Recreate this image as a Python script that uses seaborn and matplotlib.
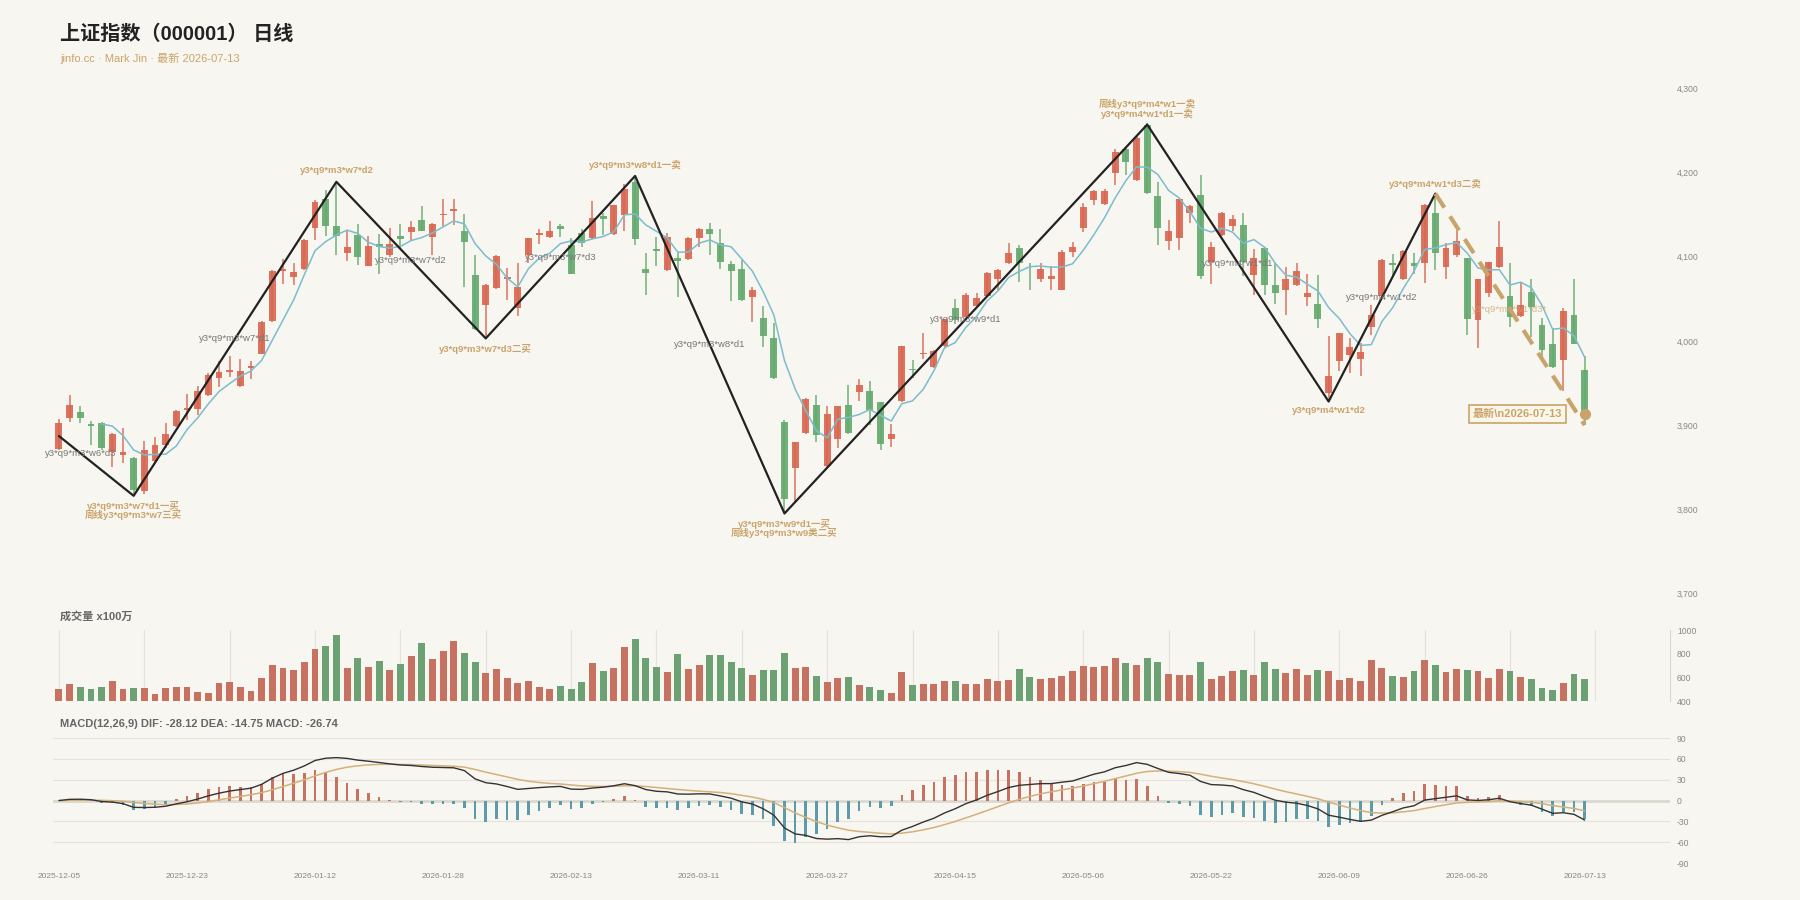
import numpy as np
import pandas as pd
import seaborn as sns
import matplotlib.pyplot as plt
from matplotlib.ticker import FuncFormatter

# daily OHLC (index 0 = 2025-12-05, 143 = 2026-07-13)
opens = [3872, 3908, 3916, 3901, 3903, 3868, 3864, 3861, 3822, 3857,
         3876, 3899, 3918, 3919, 3936, 3956, 3963, 3947, 3968, 3985,
         4024, 4083, 4076, 4086, 4134, 4168, 4137, 4105, 4126, 4089,
         4115, 4102, 4125, 4129, 4144, 4124, 4149, 4154, 4131, 4078,
         4043, 4063, 4074, 4039, 4102, 4126, 4123, 4137, 4114, 4128,
         4122, 4148, 4127, 4150, 4189, 4086, 4109, 4084, 4098, 4097,
         4122, 4133, 4116, 4091, 4085, 4052, 4027, 4004, 3904, 3849,
         3891, 3924, 3851, 3883, 3924, 3939, 3940, 3927, 3883, 3929,
         3967, 3984, 3969, 3994, 4039, 4029, 4041, 4053, 4074, 4092,
         4110, 4080, 4073, 4074, 4060, 4106, 4134, 4167, 4163, 4200,
         4228, 4191, 4257, 4172, 4119, 4122, 4152, 4173, 4094, 4126,
         4136, 4138, 4078, 4110, 4066, 4060, 4066, 4052, 4044, 3938,
         3976, 3983, 3978, 4017, 4053, 4093, 4073, 4093, 4093, 4152,
         4088, 4102, 4098, 4025, 4057, 4088, 4053, 4030, 4058, 4019,
         3996, 3977, 4031, 3965]
highs = [3907, 3936, 3923, 3905, 3904, 3891, 3896, 3862, 3881, 3886,
         3902, 3918, 3937, 3946, 3962, 3976, 3982, 3978, 3976, 4024,
         4084, 4097, 4092, 4121, 4167, 4179, 4189, 4132, 4139, 4125,
         4127, 4134, 4139, 4142, 4160, 4140, 4168, 4168, 4151, 4102,
         4068, 4102, 4087, 4093, 4122, 4133, 4142, 4139, 4122, 4133,
         4166, 4152, 4162, 4187, 4196, 4104, 4124, 4128, 4104, 4123,
         4134, 4140, 4133, 4095, 4096, 4064, 4041, 4021, 3906, 3880,
         3932, 3936, 3923, 3923, 3948, 3955, 3952, 3928, 3901, 3994,
         3977, 4010, 3989, 4026, 4050, 4057, 4057, 4082, 4086, 4116,
         4114, 4093, 4092, 4089, 4108, 4117, 4164, 4179, 4181, 4228,
         4229, 4243, 4259, 4189, 4144, 4169, 4161, 4197, 4118, 4153,
         4149, 4152, 4109, 4111, 4092, 4088, 4092, 4079, 4078, 4006,
         4010, 4004, 3997, 4043, 4097, 4103, 4108, 4104, 4163, 4175,
         4116, 4132, 4099, 4074, 4094, 4142, 4092, 4069, 4073, 4027,
         4015, 4039, 4073, 3982]
lows = [3870, 3904, 3902, 3876, 3871, 3850, 3855, 3816, 3818, 3855,
        3873, 3898, 3906, 3912, 3934, 3945, 3957, 3945, 3955, 3984,
        4023, 4068, 4066, 4084, 4120, 4125, 4102, 4095, 4090, 4089,
        4080, 4100, 4109, 4119, 4130, 4102, 4137, 4138, 4064, 4013,
        4003, 4062, 4049, 4030, 4092, 4115, 4122, 4123, 4080, 4112,
        4121, 4126, 4126, 4130, 4114, 4055, 4089, 4083, 4052, 4096,
        4112, 4102, 4086, 4047, 4048, 4022, 3993, 3955, 3795, 3808,
        3890, 3880, 3850, 3873, 3890, 3929, 3900, 3870, 3874, 3928,
        3956, 3979, 3968, 3991, 4020, 4028, 4040, 4052, 4061, 4091,
        4070, 4061, 4070, 4061, 4060, 4100, 4129, 4162, 4162, 4185,
        4197, 4190, 4175, 4114, 4108, 4108, 4140, 4074, 4068, 4125,
        4130, 4077, 4055, 4055, 4044, 4031, 4065, 4042, 4015, 3928,
        3964, 3962, 3958, 4007, 4052, 4078, 4072, 4080, 4069, 4084,
        4074, 4100, 4007, 3991, 4052, 4087, 4017, 4028, 4005, 3977,
        3968, 3940, 3996, 3900]
closes = [3902, 3924, 3909, 3899, 3873, 3889, 3868, 3823, 3870, 3876,
          3890, 3917, 3920, 3940, 3959, 3963, 3965, 3964, 3970, 4023,
          4083, 4086, 4082, 4120, 4165, 4137, 4125, 4111, 4100, 4113,
          4112, 4115, 4121, 4135, 4131, 4139, 4151, 4157, 4117, 4014,
          4066, 4101, 4076, 4064, 4122, 4128, 4131, 4133, 4080, 4116,
          4146, 4145, 4161, 4181, 4121, 4081, 4107, 4123, 4095, 4122,
          4133, 4127, 4094, 4083, 4049, 4061, 4006, 3956, 3812, 3880,
          3931, 3888, 3913, 3923, 3891, 3948, 3918, 3878, 3889, 3994,
          3965, 3986, 3988, 4026, 4025, 4055, 4051, 4081, 4084, 4105,
          4092, 4079, 4085, 4077, 4106, 4111, 4159, 4178, 4178, 4224,
          4213, 4241, 4176, 4134, 4130, 4168, 4160, 4077, 4112, 4152,
          4145, 4094, 4099, 4066, 4057, 4074, 4083, 4057, 4026, 3958,
          4009, 3993, 3987, 4031, 4096, 4090, 4107, 4089, 4161, 4105,
          4110, 4119, 4026, 4073, 4094, 4111, 4028, 4043, 4040, 3989,
          3969, 4036, 3996, 3913]
volumes = [498, 545, 523, 498, 523, 573, 498, 512, 512, 459,
           512, 523, 520, 473, 467, 556, 565, 523, 489, 595,
           701, 682, 665, 732, 841, 869, 955, 679, 763, 688,
           735, 665, 710, 782, 888, 754, 821, 908, 805, 732,
           637, 673, 595, 556, 573, 523, 498, 528, 498, 565,
           724, 651, 682, 860, 922, 763, 687, 646, 796, 671,
           707, 785, 791, 729, 676, 620, 665, 665, 805, 676,
           685, 615, 559, 593, 604, 540, 520, 490, 470, 643,
           540, 542, 542, 567, 567, 548, 548, 587, 573, 581,
           671, 604, 590, 598, 612, 657, 699, 685, 696, 763,
           721, 704, 763, 732, 629, 618, 623, 729, 590, 615,
           654, 660, 620, 732, 673, 640, 668, 620, 662, 657,
           576, 598, 570, 743, 676, 615, 607, 657, 743, 707,
           646, 668, 660, 657, 598, 671, 654, 601, 590, 514,
           495, 551, 629, 590]

tick_pos = [0, 12, 24, 36, 48, 60, 72, 84, 96, 108, 120, 132, 143]
tick_dates = ["2025-12-05", "2025-12-23", "2026-01-12", "2026-01-28", "2026-02-13",
              "2026-03-11", "2026-03-27", "2026-04-15", "2026-05-06", "2026-05-22",
              "2026-06-09", "2026-06-26", "2026-07-13"]

# zigzag strokes
pivot_idx = [0, 7, 26, 40, 54, 68, 102, 119, 129]
pivot_val = [3887, 3816, 4189, 4003, 4196, 3795, 4257, 3928, 4175]
open_end = (143, 3900)
seg_names = ["y3*q9*m3*w7*d1", "y3*q9*m3*w7*d2", "y3*q9*m3*w7*d3", "y3*q9*m3*w8*d1",
             "y3*q9*m3*w9*d1", "y3*q9*m4*w1*d1", "y3*q9*m4*w1*d2"]
first_name = "y3*q9*m3*w6*d3"
open_name = "y3*q9*m4*w1*d3*"

# signal labels at the pivots
sig_x = [7, 7, 26, 40, 54, 68, 68, 102, 102, 119, 129]
sig_y = [3804, 3793, 4203, 3990, 4209, 3783, 3772, 4281, 4270, 3917, 4187]
sig_text = ["y3*q9*m3*w7*d1一买", "周线y3*q9*m3*w7三买", "y3*q9*m3*w7*d2",
            "y3*q9*m3*w7*d3二买", "y3*q9*m3*w8*d1一卖", "y3*q9*m3*w9*d1一买",
            "周线y3*q9*m3*w9类二买", "周线y3*q9*m4*w1一卖", "y3*q9*m4*w1*d1一卖",
            "y3*q9*m4*w1*d2", "y3*q9*m4*w1*d3二卖"]

BG = "#f8f6f1"
RED = "#d8654f"
GREEN = "#62aa6c"
GOLD = "#c9a46a"
TEAL = "#4fa3b6"
MA_C = "#7cbccc"

sns.set_theme(style="white")
plt.rcParams["font.family"] = ["Liberation Sans", "Noto Sans CJK SC", "DejaVu Sans"]
plt.rcParams["axes.unicode_minus"] = False

o = np.array(opens, float)
h = np.array(highs, float)
l = np.array(lows, float)
c = np.array(closes, float)
idx = np.arange(len(c))
up = c >= o
cols = np.where(up, RED, GREEN)

close = pd.Series(c)
ma5 = close.rolling(5).mean()
dif = close.ewm(span=12, adjust=False).mean() - close.ewm(span=26, adjust=False).mean()
dea = dif.ewm(span=9, adjust=False).mean()
hist = 2 * (dif - dea)

fig = plt.figure(figsize=(18, 9), dpi=100, facecolor=BG)
XL = (-0.6, 151)
L, W = 0.0292, 0.8986
ax = fig.add_axes([L, 0.3406, W, 0.5612], facecolor=BG)
axv = fig.add_axes([L, 0.221, W, 0.079], facecolor=BG)
axm = fig.add_axes([L, 0.041, W, 0.139], facecolor=BG)

# --- candles
ax.vlines(idx, l, h, colors=cols, linewidth=1.1, alpha=0.9, zorder=2)
body = np.maximum(np.abs(c - o), 0.9)
ax.bar(idx, body, bottom=np.minimum(o, c), width=0.65, color=cols, alpha=0.9,
       linewidth=0, zorder=3)
ma_df = pd.DataFrame({"i": idx, "ma": ma5}).dropna()
sns.lineplot(data=ma_df, x="i", y="ma", color=MA_C, linewidth=1.1, ax=ax,
             estimator=None, zorder=4)

# zigzag
ax.plot(pivot_idx, pivot_val, color="#222222", linewidth=1.6, zorder=5)
ax.plot([pivot_idx[-1], open_end[0]], [pivot_val[-1], open_end[1]], color=GOLD,
        linewidth=3, dashes=(4, 2.5), zorder=5)
ax.plot(open_end[0], c[-1], "o", color=GOLD, markersize=7, zorder=6)

txt_kw = dict(ha="center", va="center", fontsize=6.8, zorder=7)
ax.text(2, 3866, first_name, color="#777777", **txt_kw)
for k, name in enumerate(seg_names):
    mx = (pivot_idx[k + 1] + pivot_idx[k + 2]) / 2
    my = (pivot_val[k + 1] + pivot_val[k + 2]) / 2
    ax.text(mx, my, name, color="#777777", **txt_kw)
ax.text((pivot_idx[-1] + open_end[0]) / 2, (pivot_val[-1] + open_end[1]) / 2,
        open_name, color=GOLD, alpha=0.75, **txt_kw)
for x, y, t in zip(sig_x, sig_y, sig_text):
    ax.text(x, y, t, color=GOLD, fontweight="bold", **txt_kw)

ax.text(140.9, c[-1], "最新\\n2026-07-13", ha="right", va="center", fontsize=8,
        color=GOLD, fontweight="bold", zorder=8,
        bbox=dict(boxstyle="square,pad=0.35", facecolor="#fbf6ea", edgecolor=GOLD,
                  linewidth=1.2))

ax.set_xlim(XL)
ax.set_ylim(3700, 4300)
ax.set_yticks(range(3700, 4301, 100))
ax.yaxis.set_major_formatter(FuncFormatter(lambda v, p: f"{int(v):,}"))
ax.set_xticks([])
ax.set_xlabel("")
ax.set_ylabel("")

# --- volume
vol_df = pd.DataFrame({"i": idx, "vol": volumes, "dir": np.where(up, "up", "down")})
sns.barplot(data=vol_df, x="i", y="vol", hue="dir", palette={"up": RED, "down": GREEN},
            native_scale=True, dodge=False, width=0.65, errorbar=None, legend=False,
            linewidth=0, ax=axv, zorder=3)
axv.set_xlim(XL)
axv.set_ylim(400, 1000)
axv.set_yticks([400, 600, 800, 1000])
axv.set_xticks(range(0, 145, 8))
axv.grid(axis="x", color="#e4e1da", linewidth=0.8)
axv.grid(axis="y", visible=False)
axv.tick_params(axis="x", labelbottom=False, length=0)
axv.set_xlabel("")
axv.set_ylabel("")

# --- MACD
m_df = pd.DataFrame({"i": idx, "hist": hist, "sign": np.where(hist >= 0, "pos", "neg")})
sns.barplot(data=m_df, x="i", y="hist", hue="sign", palette={"pos": RED, "neg": TEAL},
            native_scale=True, dodge=False, width=0.25, errorbar=None, legend=False,
            linewidth=0, ax=axm, zorder=3)
axm.axhline(0, color="#dcd8cf", linewidth=2, zorder=2)
sns.lineplot(x=idx, y=dea.values, color="#d4b07a", linewidth=1.1, ax=axm,
             estimator=None, zorder=4)
sns.lineplot(x=idx, y=dif.values, color="#333333", linewidth=1.0, ax=axm,
             estimator=None, zorder=5)
axm.set_xlim(XL)
axm.set_ylim(-90, 90)
axm.set_yticks(range(-90, 91, 30))
axm.grid(axis="y", color="#e6e3dc", linewidth=0.8)
axm.grid(axis="x", visible=False)
axm.set_xticks(tick_pos)
axm.set_xticklabels(tick_dates)
axm.tick_params(axis="x", length=0, pad=7, labelsize=6, colors="#888888")
axm.set_xlabel("")
axm.set_ylabel("")

for a in (ax, axv, axm):
    a.yaxis.tick_right()
    a.tick_params(axis="y", length=0, pad=5, labelsize=6.2, colors="#888888")
    for s in a.spines.values():
        s.set_visible(False)
axv.spines["right"].set_visible(True)
axv.spines["right"].set_color("#d9d6cf")
axv.spines["right"].set_linewidth(0.8)

fig.text(60 / 1800, 1 - 34 / 900, "上证指数（000001） 日线", fontsize=14.5,
         fontweight="bold", color="#222222", va="center")
fig.text(60 / 1800, 1 - 58.5 / 900, "jinfo.cc · Mark Jin · 最新 2026-07-13",
         fontsize=8, color=GOLD, va="center")
fig.text(60 / 1800, 1 - 616.5 / 900, "成交量 x100万", fontsize=8, fontweight="bold",
         color="#666666", va="center")
fig.text(60 / 1800, 1 - 724 / 900, "MACD(12,26,9) DIF: -28.12 DEA: -14.75 MACD: -26.74",
         fontsize=8, fontweight="bold", color="#666666", va="center")

fig.savefig("out.png", dpi=100, facecolor=BG)
